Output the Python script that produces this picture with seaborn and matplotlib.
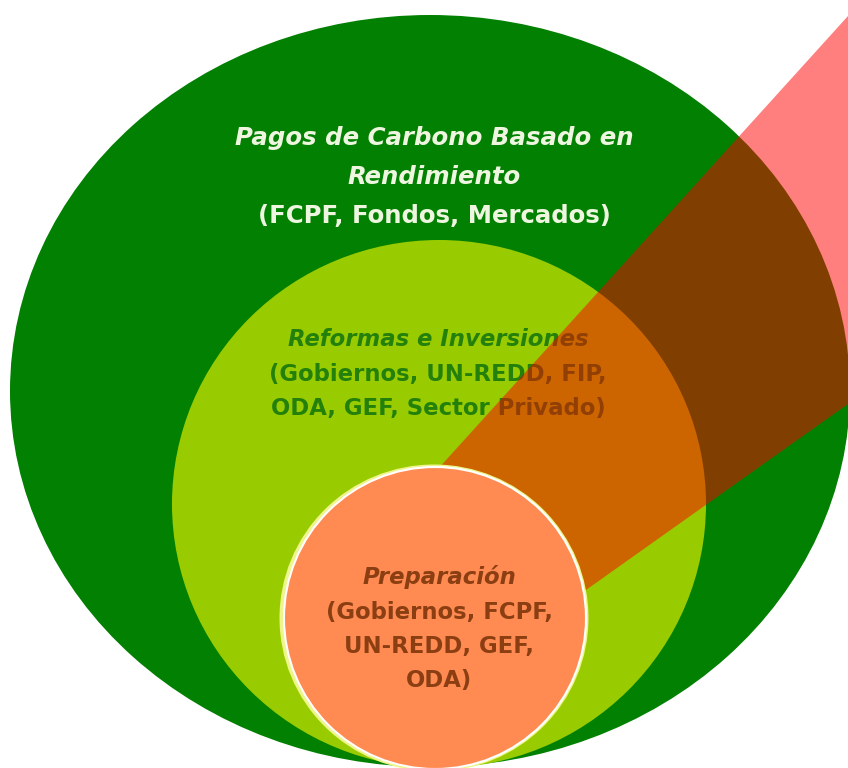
import matplotlib
matplotlib.use("Agg")
import matplotlib.pyplot as plt
from matplotlib.patches import Ellipse, Polygon
import seaborn as sns

sns.set_theme(style="white")
plt.rcParams['font.family'] = ['DejaVu Sans']

# Layers (pixel coordinates of the reference image)
layer_names = ["Pagos", "Reformas", "Preparacion"]
layer_cx = [430, 439, 435]
layer_cy = [391, 504, 618]
layer_w = [840, 534, 302]
layer_h = [752, 528, 302]
layer_colors = ["#028002", "#99cc00", "#ff8a52"]

# Highlight wedge
wedge_x = [437, 848, 848, 586]
wedge_y = [470, 16, 404, 590]
wedge_color = "#ff0000"
wedge_alpha = 0.5

# Labels
outer_lines = ["Pagos de Carbono Basado en", "Rendimiento", "(FCPF, Fondos, Mercados)"]
outer_y = [138, 177, 216]
outer_style = ["italic", "italic", "normal"]
middle_lines = ["Reformas e Inversiones", "(Gobiernos, UN-REDD, FIP,", "ODA, GEF, Sector Privado)"]
middle_y = [340, 374, 408]
middle_style = ["italic", "normal", "normal"]
inner_lines = ["Preparación", "(Gobiernos, FCPF,", "UN-REDD, GEF,", "ODA)"]
inner_y = [577, 612, 646, 681]
inner_style = ["italic", "normal", "normal", "normal"]

fig = plt.figure(figsize=(8.48, 7.68), dpi=100)
ax = fig.add_axes([0, 0, 1, 1])
ax.set_xlim(0, 848)
ax.set_ylim(768, 0)
ax.axis("off")

# outer and middle ellipses
for i in range(2):
    ax.add_patch(Ellipse((layer_cx[i], layer_cy[i]), layer_w[i], layer_h[i],
                         facecolor=layer_colors[i], edgecolor="none", zorder=1 + i))

# text of outer / middle (under the translucent wedge)
for t, y, s in zip(outer_lines, outer_y, outer_style):
    ax.text(434, y, t, ha="center", va="center", fontsize=17.6, fontweight="bold",
            style=s, color="#eef6e0", zorder=3)
for t, y, s in zip(middle_lines, middle_y, middle_style):
    ax.text(438, y, t, ha="center", va="center", fontsize=16.4, fontweight="bold",
            style=s, color="#23800a", zorder=3)

# wedge
ax.add_patch(Polygon(list(zip(wedge_x, wedge_y)), closed=True, facecolor=wedge_color,
                     alpha=wedge_alpha, edgecolor="none", zorder=4))

# inner circle with glow and white rim
ax.add_patch(Ellipse((layer_cx[2] - 1, layer_cy[2]), layer_w[2] + 7, layer_h[2] + 5,
                     facecolor="#eef58a", edgecolor="none", zorder=5))
ax.add_patch(Ellipse((layer_cx[2], layer_cy[2]), layer_w[2], layer_h[2],
                     facecolor=layer_colors[2], edgecolor="white", linewidth=1.5, zorder=6))

for t, y, s in zip(inner_lines, inner_y, inner_style):
    ax.text(439, y, t, ha="center", va="center", fontsize=16.4, fontweight="bold",
            style=s, color="#8a3e12", zorder=7)

fig.savefig("out.png", dpi=100)
